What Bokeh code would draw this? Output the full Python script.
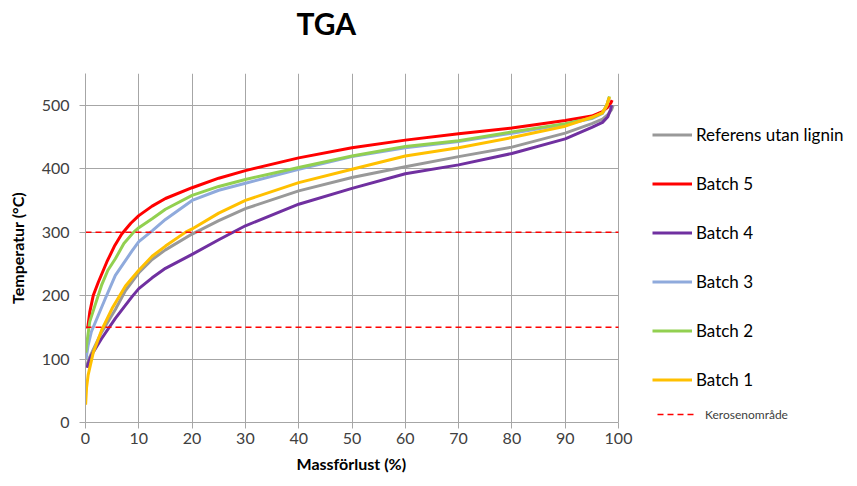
from bokeh.plotting import figure
from bokeh.models import Range1d, FixedTicker, Legend, LegendItem, Title
from bokeh.embed import file_html
from bokeh.resources import INLINE

# ---- data ----
ref_x = [0.2, 0.6, 1.45, 3, 5.6, 7.5, 10, 12.5, 15, 20, 25, 30, 40, 50, 60, 70, 80, 90, 95, 97, 98, 98.7, 99]
ref_t = [88, 100, 115, 142, 178, 208, 236, 257, 272, 297, 318, 337, 365, 386, 403, 419, 434, 456, 471, 478, 485, 493, 500]

b5_x = [0.4, 0.8, 1.45, 2.4, 4, 5.5, 6.8, 8.5, 10, 12.5, 15, 20, 25, 30, 40, 50, 60, 70, 80, 90, 95, 97, 98, 98.6, 98.8]
b5_t = [148, 174, 200, 221, 253, 279, 297, 314, 326, 341, 353, 370, 385, 397, 417, 433, 445, 455, 464, 476, 483, 490, 497, 504, 508]

b4_x = [0.3, 0.5, 1.1, 3, 5.6, 8.7, 10, 12.5, 15, 20, 25, 30, 40, 50, 60, 70, 80, 90, 95, 97, 98, 98.5, 98.7]
b4_t = [86, 93, 106, 132, 164, 198, 211, 228, 243, 265, 288, 310, 344, 369, 392, 406, 424, 447, 465, 473, 482, 493, 500]

b3_x = [0.1, 0.5, 1.1, 2.4, 3.7, 5.6, 8.7, 10, 12.5, 15, 20, 25, 30, 40, 50, 60, 70, 80, 90, 95, 97, 97.8, 98.2]
b3_t = [100, 122, 143, 169, 195, 232, 270, 285, 302, 320, 350, 366, 377, 399, 419, 433, 443, 456, 470, 479, 487, 500, 511]

b2_x = [0.05, 0.2, 0.8, 1.8, 3, 4.2, 5.6, 7.2, 9.05, 10, 12.5, 15, 20, 25, 30, 40, 50, 60, 70, 80, 90, 95, 97, 97.8, 98.3]
b2_t = [110, 122, 159, 185, 216, 240, 258, 282, 300, 307, 321, 336, 358, 372, 383, 402, 420, 435, 444, 458, 471, 480, 488, 500, 514]

b1_x = [0.02, 0.2, 0.5, 1.45, 3, 5, 7.5, 10, 12.5, 15, 18.8, 20, 25, 30, 40, 50, 60, 70, 80, 90, 95, 97, 97.8, 98.3]
b1_t = [28, 55, 75, 110, 145, 180, 215, 240, 262, 278, 300, 305, 330, 350, 378, 399, 420, 433, 449, 467, 481, 488, 500, 513]

kerosene_x = [0, 100]
kerosene_low = [150, 150]
kerosene_high = [300, 300]

series_names = ["Referens utan lignin", "Batch 5", "Batch 4", "Batch 3", "Batch 2", "Batch 1"]
kerosene_name = "Kerosenområde"
x_title = "Massförlust (%)"
y_title = "Temperatur (°C)"

x_ticks = [0, 10, 20, 30, 40, 50, 60, 70, 80, 90, 100]
y_ticks = [0, 100, 200, 300, 400, 500]

FONT = "Lato"

# layout: plotting area 0..100 is 533 px wide; the frame continues to the right
# edge of the canvas so that the legend (drawn inside the frame) stays visible
W, H = 857, 486
LEFT, TOP, BOTTOM = 85, 73, 64
AREA_W = 533
X_MAX = 100.0 * (W - LEFT) / AREA_W

p = figure(width=W, height=H, output_backend="svg", toolbar_location=None,
           x_range=Range1d(0, X_MAX), y_range=Range1d(0, 550),
           min_border_left=LEFT, min_border_right=0, min_border_top=TOP, min_border_bottom=BOTTOM)

p.title.text = "TGA"
p.title.text_font = FONT
p.title.text_font_size = "30px"
p.title.text_font_style = "bold"
p.title.text_color = "#000000"
p.title.align = "left"
p.title.offset = 211
p.title.standoff = 4
# spacer between the frame and the title
p.add_layout(Title(text=" ", text_font_size="1px", standoff=28), "above")

p.outline_line_color = None
p.background_fill_color = "white"
p.border_fill_color = "white"

grid_col = "#A6A6A6"
for ax in (p.xaxis[0], p.yaxis[0]):
    ax.axis_line_color = grid_col
    ax.major_tick_line_color = grid_col
    ax.major_tick_out = 6
    ax.major_tick_in = 0
    ax.minor_tick_line_color = None
    ax.major_label_text_font = FONT
    ax.major_label_text_font_size = "16px"
    ax.major_label_text_color = "#404040"
    ax.axis_label_text_font = FONT
    ax.axis_label_text_font_size = "16px"
    ax.axis_label_text_font_style = "bold"
    ax.axis_label_text_color = "#000000"

p.xaxis.ticker = FixedTicker(ticks=x_ticks)
p.yaxis.ticker = FixedTicker(ticks=y_ticks)
p.xaxis.bounds = (0, 100)
p.yaxis.axis_label = y_title
p.xaxis.major_label_standoff = 4
p.yaxis.major_label_standoff = 10
p.yaxis.axis_label_standoff = 12

# x-axis title, centred under the 0..100 plotting area
p.add_layout(Title(text=x_title, align="left", offset=211, text_font=FONT, text_font_size="16px",
                   text_font_style="bold", text_color="#000000", standoff=14,
                   vertical_align="top"), "below")

p.xgrid.grid_line_color = grid_col
p.ygrid.grid_line_color = grid_col
p.xgrid.ticker = FixedTicker(ticks=x_ticks)
p.ygrid.ticker = FixedTicker(ticks=y_ticks)
try:
    p.ygrid.cross_bounds = (0, 100)
except AttributeError:
    p.ygrid.visible = False
    p.segment(x0=[0] * len(y_ticks), x1=[100] * len(y_ticks), y0=y_ticks, y1=y_ticks,
              line_color=grid_col, line_width=1)

lw = 3
r_ref = p.line(ref_x, ref_t, line_color="#999999", line_width=lw, line_join="round")
r_b5 = p.line(b5_x, b5_t, line_color="#FF0000", line_width=lw, line_join="round")
r_b4 = p.line(b4_x, b4_t, line_color="#7030A0", line_width=lw, line_join="round")
r_b3 = p.line(b3_x, b3_t, line_color="#8FAADC", line_width=lw, line_join="round")
r_b2 = p.line(b2_x, b2_t, line_color="#92D050", line_width=lw, line_join="round")
r_b1 = p.line(b1_x, b1_t, line_color="#FFC000", line_width=lw, line_join="round")

k_dash = "6 4"
r_k1 = p.line(kerosene_x, kerosene_low, line_color="#FF0000", line_width=1.5, line_dash=k_dash)
r_k2 = p.line(kerosene_x, kerosene_high, line_color="#FF0000", line_width=1.5, line_dash=k_dash)

renderers = [r_ref, r_b5, r_b4, r_b3, r_b2, r_b1]
legend = Legend(items=[LegendItem(label=n, renderers=[r]) for n, r in zip(series_names, renderers)],
                location=(567, 32))
legend.label_text_font = FONT
legend.label_text_font_size = "17px"
legend.label_text_color = "#000000"
legend.glyph_width = 40
legend.glyph_height = 21
legend.label_height = 21
legend.spacing = 28
legend.padding = 0
legend.margin = 0
legend.label_standoff = 4
legend.border_line_color = None
legend.background_fill_alpha = 0
p.add_layout(legend)

legend2 = Legend(items=[LegendItem(label=kerosene_name, renderers=[r_k1])], location=(572, 0))
legend2.label_text_font = FONT
legend2.label_text_font_size = "12px"
legend2.label_text_color = "#404040"
legend2.glyph_width = 40
legend2.glyph_height = 16
legend2.label_height = 16
legend2.padding = 0
legend2.margin = 0
legend2.label_standoff = 8
legend2.border_line_color = None
legend2.background_fill_alpha = 0
p.add_layout(legend2)

open("out.html", "w").write(file_html(p, INLINE))
